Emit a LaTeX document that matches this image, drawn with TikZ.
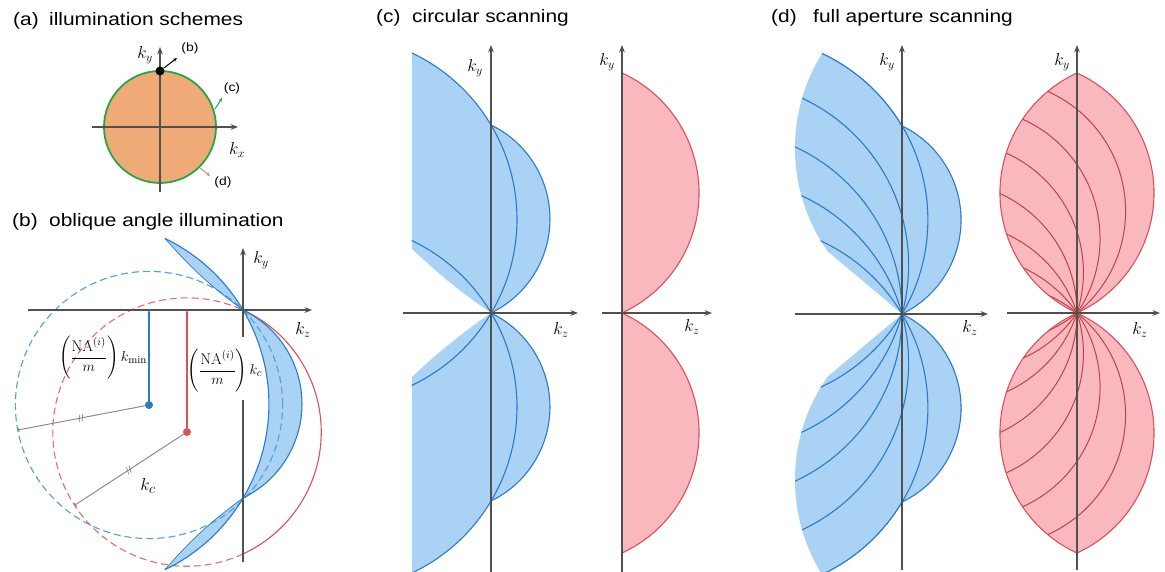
\documentclass[tikz,border=0pt]{standalone}
\usepackage{fontspec}
\usepackage{amsmath}
\newfontfamily\titlefont{Liberation Sans}[FakeStretch=1.16]
\usepackage{tikz}
\usetikzlibrary{arrows.meta, decorations.markings}

\definecolor{ewBlue}{HTML}{2A7BC8}
\definecolor{ewBlueFill}{HTML}{A9D2F4}
\definecolor{ewBlueDash}{HTML}{4FA0DC}
\definecolor{ewRed}{HTML}{DC505A}
\definecolor{ewRedFill}{HTML}{F8B8BD}
\definecolor{ewRedDash}{HTML}{E66E6E}
\definecolor{ewOrange}{HTML}{F0AA78}
\definecolor{ewGreen}{HTML}{28A546}
\definecolor{ewAxis}{HTML}{505050}
\definecolor{ewGray}{HTML}{8C8C8C}

\tikzset{
  axisline/.style={-{Stealth[length=2.6mm, width=2mm]}, line width=1.2pt, draw=ewAxis},
  pointer/.style={-{Stealth[length=4pt, width=3.5pt]}, line width=1pt},
  bluefill/.style={fill=ewBlueFill},
  redfill/.style={fill=ewRedFill},
  blueline/.style={draw=ewBlue, line width=1.1pt},
  redline/.style={draw=ewRed, line width=1.1pt},
  redthin/.style={draw=ewRed!85!black, line width=1pt},
  bluedash/.style={draw=ewBlueDash, line width=1.1pt, dash pattern=on 7pt off 4pt},
  reddash/.style={draw=ewRedDash, line width=1.1pt, dash pattern=on 7pt off 4pt},
  shiftline/.style={-{Stealth[length=4pt, width=3pt]}, line width=1.4pt},
  radline/.style={draw=ewGray, line width=1pt, -{Bar[width=4pt]},
    postaction={decorate},
    decoration={markings, mark=at position 0.5 with {
      \draw[-, ewGray, line width=0.8pt] (-2pt,-3.5pt) -- (0pt,3.5pt) (1pt,-3.5pt) -- (3pt,3.5pt);}}},
  dot/.style={circle, inner sep=0pt, minimum size=8pt},
  klab/.style={font=\fontsize{17}{17}\selectfont, inner sep=1pt},
  fraclab/.style={font=\fontsize{15.5}{17}\selectfont, inner sep=1pt},
  title/.style={font=\titlefont\fontsize{18}{20}\selectfont, inner sep=0pt, anchor=base west},
  tag/.style={font=\titlefont\fontsize{12}{13}\selectfont, inner sep=1pt}
}

\begin{document}
\begin{tikzpicture}[x=1pt, y=1pt]
  \useasboundingbox (0,0) rectangle (1165,572);
  \fill[white] (0,0) rectangle (1165,572);

  % titles
  \node[title] (tA) at (13,546) {(a)};
  \node[title] (tAtext) at (49,546) {illumination schemes};
  \node[title] (tB) at (12,345) {(b)};
  \node[title] (tBtext) at (49,345) {oblique angle illumination};
  \node[title] (tC) at (376,549) {(c)};
  \node[title] (tCtext) at (412,549) {circular scanning};
  \node[title] (tD) at (771,549) {(d)};
  \node[title] (tDtext) at (813,549) {full aperture scanning};

  % (a) illumination schemes
  \begin{scope}[shift={(160,445)}]
    \filldraw[fill=ewOrange, draw=ewGreen, line width=1.8pt] (0,0) circle (56);
    \draw[axisline] (-68,0) -- (78,0);
    \draw[axisline] (0,-65) -- (0,80);
    \node[dot, fill=black, minimum size=9pt] (aDot) at (0,56) {};
    \node[tag] (aTagB) at (30,79) {(b)};
    \node[tag] (aTagC) at (72,39) {(c)};
    \node[tag] (aTagD) at (63,-55) {(d)};
    \coordinate (aB1) at (17,69);
    \coordinate (aC0) at (55,18);
    \coordinate (aC1) at (62,29);
    \coordinate (aD0) at (40,-41);
    \coordinate (aD1) at (50,-49);
    \draw[pointer] (aDot) -- (aB1);
    \draw[pointer, ewGreen] (aC0) -- (aC1);
    \draw[pointer, ewOrange!85!black] (aD0) -- (aD1);
    \node[klab] (aKy) at (-15,72) {$k_y$};
    \node[klab] (aKx) at (77,-23) {$k_x$};
  \end{scope}

  % (b) oblique angle illumination
  \begin{scope}[shift={(243,262)}]
    \coordinate (bO) at (0,0);
    \coordinate (bQ) at (0,-188);
    \fill[bluefill] (bO) arc[start angle=64.2, end angle=-64.2, radius=104.4]
      arc[start angle=-30.75, end angle=30.75, radius=184] -- cycle;
    \fill[bluefill] (bO) arc[start angle=30.75, end angle=64.2, radius=184] coordinate (bT1)
      to[bend right=6] (bO);
    \fill[bluefill] (bQ) arc[start angle=-30.75, end angle=-64.2, radius=184] coordinate (bT2)
      to[bend left=6] (bQ);
    \draw[bluedash] (-94,-95) circle (133.6);
    \draw[reddash] (0,-244) arc[start angle=-65.35, end angle=-294.65, radius=134.2];
    \draw[redline] (bO) arc[start angle=65.35, end angle=-65.35, radius=134.2];
    \draw[blueline] (bT1) arc[start angle=64.2, end angle=-64.2, radius=184];
    \draw[blueline] (bO) arc[start angle=64.2, end angle=-64.2, radius=104.4];
    \draw[blueline, line width=0.7pt] (bT1) to[bend right=6] (bO) (bT2) to[bend left=6] (bQ);
    \draw[axisline, -] (0,-252) -- (0,-90);
    \draw[axisline] (0,-27) -- (0,62);
    \draw[axisline] (-215,0) -- (69,0);
    \node[dot, fill=ewBlue] (bCb) at (-94,-95) {};
    \node[dot, fill=ewRed] (bCr) at (-56,-122) {};
    \coordinate (bEb) at (-225,-120);
    \coordinate (bEr) at (-168,-195);
    \draw[shiftline, ewBlue] (bCb) -- (bCb |- bO);
    \draw[shiftline, ewRed] (bCr) -- (bCr |- bO);
    \draw[radline] (bCb) -- (bEb);
    \draw[radline] (bCr) -- (bEr);
    \node[fraclab] (bLmin) at (-140,-48) {$\left(\dfrac{\mathrm{NA}^{(i)}}{m}\right)k_{\min}$};
    \node[fraclab] (bLc) at (-18,-61) {$\left(\dfrac{\mathrm{NA}^{(i)}}{m}\right)k_{c}$};
    \node[klab, font=\fontsize{19}{19}\selectfont] (bKc) at (-95,-176) {$k_c$};
    \node[klab] (bKy) at (18,50) {$k_y$};
    \node[klab] (bKz) at (60,-20) {$k_z$};
  \end{scope}

  % (c) circular scanning, blue
  \begin{scope}[shift={(491,259)}]
    \foreach \sy in {1,-1}{
      \begin{scope}[yscale=\sy]
        \fill[bluefill] (-79,260) arc[start angle=64.56, end angle=30.75, radius=184]
          arc[start angle=64.2, end angle=-64.2, radius=104.4] to[bend left=4] (-79,64) -- cycle;
      \end{scope}
    }
    \foreach \sy in {1,-1}{
      \begin{scope}[yscale=\sy]
        \draw[blueline] (-79,260) arc[start angle=64.56, end angle=-64.68, radius=184];
        \draw[blueline] (0,188) arc[start angle=64.2, end angle=-64.2, radius=104.4];
      \end{scope}
    }
    \draw[axisline] (0,-259) -- (0,268);
    \draw[axisline] (-88,0) -- (87,0);
    \node[klab] (cKy) at (-16,245) {$k_y$};
    \node[klab] (cKz) at (70,-17) {$k_z$};
  \end{scope}

  % (c) circular scanning, red
  \begin{scope}[shift={(622,259)}]
    \foreach \sy in {1,-1}{
      \begin{scope}[yscale=\sy]
        \filldraw[redfill, redline] (0,240) arc[start angle=65.38, end angle=-65.38, radius=132] -- cycle;
      \end{scope}
    }
    \draw[axisline] (0,-259) -- (0,268);
    \draw[axisline] (-20,0) -- (90,0);
    \node[klab] (crKy) at (-15,251) {$k_y$};
    \node[klab] (crKz) at (70,-14) {$k_z$};
  \end{scope}

  % (d) full aperture scanning, blue
  \begin{scope}[shift={(902,258)}]
    \foreach \sy in {1,-1}{
      \begin{scope}[yscale=\sy]
        \begin{scope}
          \clip (-80,260.6) arc[start angle=64.9, end angle=30.75, radius=184]
            arc[start angle=64.2, end angle=-64.2, radius=104.4] -- (-74.1,62.4)
            arc[start angle=215.3, end angle=148, radius=179] -- cycle;
          \fill[bluefill] (-120,-5) rectangle (70,270);
          \foreach \p in {149.25,164.6,180,195.4,210.75}{\draw[blueline] (\p:184) circle (184);}
        \end{scope}
        \draw[blueline] (-80,260.6) arc[start angle=64.9, end angle=30.75, radius=184]
          arc[start angle=64.2, end angle=-64.2, radius=104.4];
      \end{scope}
    }
    \draw[axisline] (0,-256) -- (0,269);
    \draw[axisline] (-107,0) -- (86,0);
    \node[klab] (dKy) at (-15,252) {$k_y$};
    \node[klab] (dKz) at (68,-14) {$k_z$};
  \end{scope}

  % (d) full aperture scanning, red
  \begin{scope}[shift={(1077,259)}]
    \foreach \sy in {1,-1}{
      \begin{scope}[yscale=\sy]
        \begin{scope}
          \clip (0,240) arc[start angle=65.38, end angle=-65.38, radius=132]
            arc[start angle=245.38, end angle=114.62, radius=132] -- cycle;
          \fill[redfill] (-90,-5) rectangle (90,250);
          \foreach \p in {129,145.5,162,180,198,214.5,231}{\draw[redthin] (\p:131) circle (131);}
        \end{scope}
        \draw[redline] (0,240) arc[start angle=65.38, end angle=-65.38, radius=132]
          arc[start angle=245.38, end angle=114.62, radius=132];
      \end{scope}
    }
    \draw[axisline] (0,-257) -- (0,268);
    \draw[axisline] (-70,0) -- (83,0);
    \node[klab] (drKy) at (-15,251) {$k_y$};
    \node[klab] (drKz) at (63,-17) {$k_z$};
  \end{scope}
\end{tikzpicture}
\end{document}
